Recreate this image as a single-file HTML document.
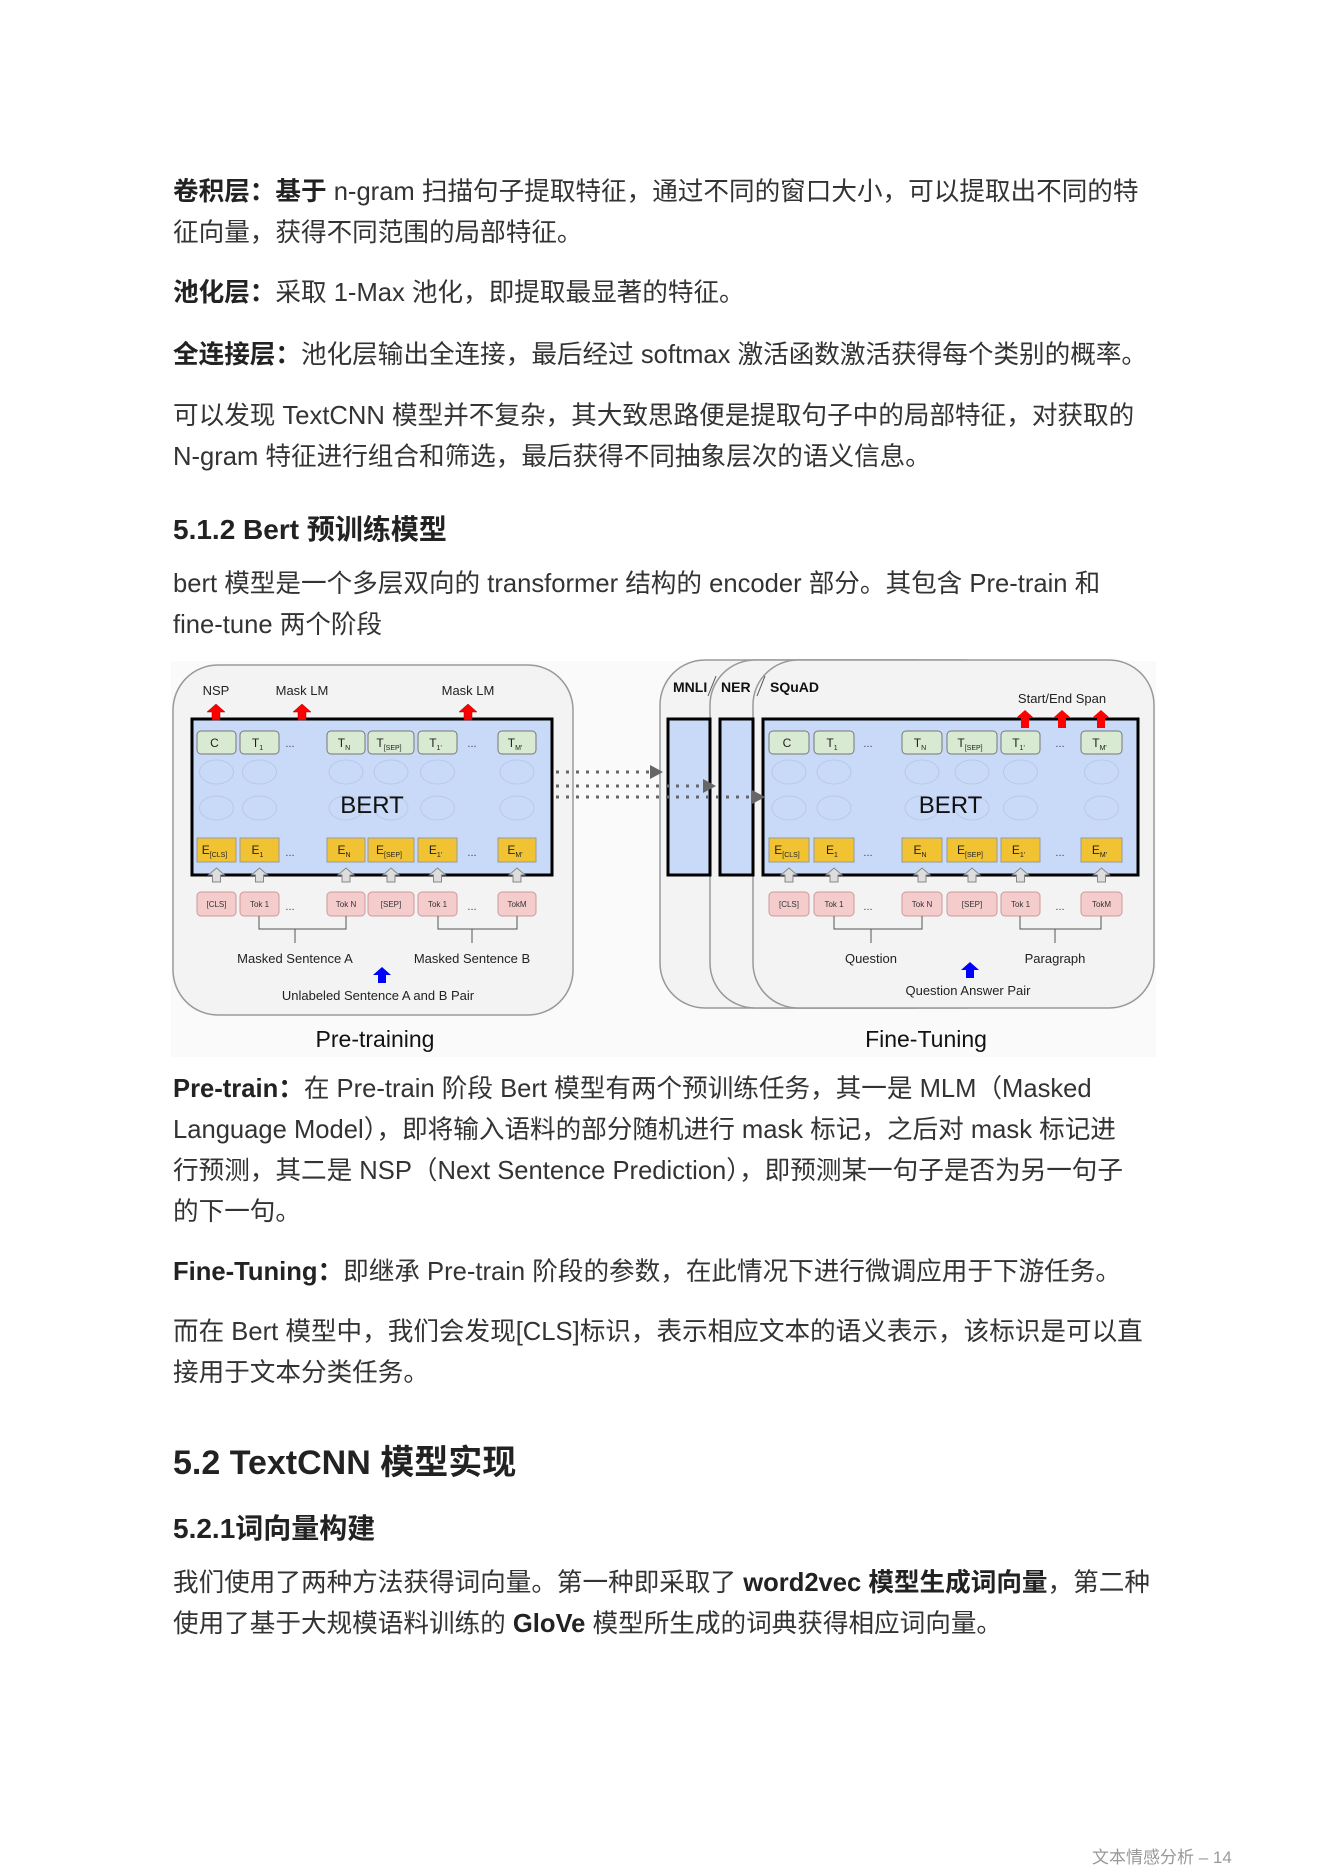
<!DOCTYPE html>
<html><head><meta charset="utf-8"><style>
html,body{margin:0;padding:0;background:#fff}
body{width:1322px;height:1871px;position:relative;overflow:hidden;font-family:"Liberation Sans","Noto Sans CJK SC",sans-serif;color:#333}
.l{position:absolute;left:173px;font-size:25.6px;line-height:30px;white-space:nowrap}
b{font-weight:bold;color:#222}
.h{position:absolute;left:173px;font-weight:bold;color:#222;white-space:nowrap}
svg{position:absolute;left:0;top:0}
</style></head><body>
<div class="l" style="top:177px"><b>卷积层：基于</b> n-gram 扫描句子提取特征，通过不同的窗口大小，可以提取出不同的特</div>
<div class="l" style="top:218px">征向量，获得不同范围的局部特征。</div>
<div class="l" style="top:278px"><b>池化层：</b>采取 1-Max 池化，即提取最显著的特征。</div>
<div class="l" style="top:340px"><b>全连接层：</b>池化层输出全连接，最后经过 softmax 激活函数激活获得每个类别的概率。</div>
<div class="l" style="top:401px">可以发现 TextCNN 模型并不复杂，其大致思路便是提取句子中的局部特征，对获取的</div>
<div class="l" style="top:442px">N-gram 特征进行组合和筛选，最后获得不同抽象层次的语义信息。</div>
<div class="h" style="top:508px;font-size:28px">5.1.2 Bert 预训练模型</div>
<div class="l" style="top:569px">bert 模型是一个多层双向的 transformer 结构的 encoder 部分。其包含 Pre-train 和</div>
<div class="l" style="top:610px">fine-tune 两个阶段</div>

<svg id="d" width="1322" height="1871" viewBox="0 0 1322 1871" font-family="Liberation Sans, sans-serif"></svg>

<div class="l" style="top:1074px"><b>Pre-train：</b>在 Pre-train 阶段 Bert 模型有两个预训练任务，其一是 MLM（Masked</div>
<div class="l" style="top:1115px">Language Model），即将输入语料的部分随机进行 mask 标记，之后对 mask 标记进</div>
<div class="l" style="top:1156px">行预测，其二是 NSP（Next Sentence Prediction），即预测某一句子是否为另一句子</div>
<div class="l" style="top:1197px">的下一句。</div>
<div class="l" style="top:1257px"><b>Fine-Tuning：</b>即继承 Pre-train 阶段的参数，在此情况下进行微调应用于下游任务。</div>
<div class="l" style="top:1317px">而在 Bert 模型中，我们会发现[CLS]标识，表示相应文本的语义表示，该标识是可以直</div>
<div class="l" style="top:1358px">接用于文本分类任务。</div>
<div class="h" style="top:1435px;font-size:34px">5.2 TextCNN 模型实现</div>
<div class="h" style="top:1507px;font-size:28px">5.2.1词向量构建</div>
<div class="l" style="top:1568px">我们使用了两种方法获得词向量。第一种即采取了 <b>word2vec 模型生成词向量</b>，第二种</div>
<div class="l" style="top:1609px">使用了基于大规模语料训练的 <b>GloVe</b> 模型所生成的词典获得相应词向量。</div>
<div style="position:absolute;left:1092px;top:1843px;font-size:17px;color:#999;white-space:nowrap">文本情感分析 – 14</div>

<script>
const s=document.getElementById('d');let h='';
h+='<rect x="171" y="661" width="985" height="396" fill="#fafafa"/>';
function panel(x,y,w,hh){h+=`<rect x="${x}" y="${y}" width="${w}" height="${hh}" rx="45" fill="#f3f3f3" stroke="#999" stroke-width="1.5"/>`;}
panel(173,665,400,350);
panel(660,660,300,348);panel(710,660,300,348);panel(753,660,401,348);
h+='<rect x="668" y="719" width="42" height="156" fill="#c9daf8" stroke="#000" stroke-width="3"/>';
h+='<rect x="720" y="719" width="33" height="156" fill="#c9daf8" stroke="#000" stroke-width="3"/>';
h+='<text x="673" y="692" font-size="14" font-weight="bold" fill="#111">MNLI</text>';
h+='<text x="721" y="692" font-size="14" font-weight="bold" fill="#111">NER</text>';
h+='<text x="770" y="692" font-size="14" font-weight="bold" fill="#111">SQuAD</text>';
h+='<line x1="716" y1="676" x2="708" y2="696" stroke="#555"/><line x1="765" y1="676" x2="757" y2="696" stroke="#555"/>';
function bert(bx,bw,boxes,dots,brL,brR,labA,labB){
 h+=`<rect x="${bx}" y="719" width="${bw}" height="156" fill="#c9daf8" stroke="#000" stroke-width="3"/>`;
 boxes.forEach(b=>{let cx=b[0]+b[1]/2;h+=`<ellipse cx="${cx}" cy="772" rx="17" ry="12" fill="none" stroke="#b8c8e6"/><ellipse cx="${cx}" cy="808" rx="17" ry="12" fill="none" stroke="#b8c8e6"/>`;});
 h+=`<text x="${bx+bw/2}" y="813" font-size="24" text-anchor="middle" fill="#111">BERT</text>`;
 const tl=[['C',''],['T','1'],['T','N'],['T','[SEP]'],["T","1'"],["T","M'"]];
 const el=[['E','[CLS]'],['E','1'],['E','N'],['E','[SEP]'],["E","1'"],["E","M'"]];
 const tk=['[CLS]','Tok 1','Tok N','[SEP]','Tok 1','TokM'];
 boxes.forEach((b,i)=>{let cx=b[0]+b[1]/2;
  h+=`<rect x="${b[0]}" y="731" width="${b[1]}" height="23" rx="4" fill="#d9ead3" stroke="#777"/>`;
  h+=`<text x="${cx-2}" y="747" font-size="12" text-anchor="middle" fill="#222">${tl[i][0]}<tspan font-size="7" dy="3">${tl[i][1]}</tspan></text>`;
  h+=`<rect x="${b[0]}" y="838" width="${b[1]}" height="24" fill="#f1c232" stroke="#999"/>`;
  h+=`<text x="${cx-2}" y="854" font-size="12" text-anchor="middle" fill="#222">${el[i][0]}<tspan font-size="7" dy="3">${el[i][1]}</tspan></text>`;
  h+=`<path d="M${cx-4} 882 V875 H${cx-8} L${cx} 868 L${cx+8} 875 H${cx+4} V882Z" fill="#ddd" stroke="#888"/>`;
  h+=`<rect x="${b[0]}" y="892" width="${b[1]}" height="24" rx="4" fill="#f4cccc" stroke="#c99"/>`;
  h+=`<text x="${cx}" y="907" font-size="8" text-anchor="middle" fill="#333">${tk[i]}</text>`;
 });
 dots.forEach(d=>{h+=`<text x="${d}" y="747" font-size="11" text-anchor="middle" fill="#444">...</text><text x="${d}" y="856" font-size="11" text-anchor="middle" fill="#444">...</text><text x="${d}" y="910" font-size="11" text-anchor="middle" fill="#444">...</text>`;});
 [brL,brR].forEach((br,i)=>{h+=`<path d="M${br[0]} 916 V929 H${br[1]} V916 M${br[2]} 929 V943" fill="none" stroke="#555"/>`;
  h+=`<text x="${br[2]}" y="963" font-size="13" text-anchor="middle" fill="#222">${[labA,labB][i]}</text>`;});
}
bert(192,360,[[197,39],[240,39],[327,38],[368,46],[418,39],[498,38]],[290,472],[259,346,295],[438,517,472],'Masked Sentence A','Masked Sentence B');
bert(763,375,[[769,40],[814,40],[902,40],[947,50],[1001,39],[1081,41]],[868,1060],[834,922,871],[1020,1101,1055],'Question','Paragraph');
function red(x){h+=`<path d="M${x-4} 720 V712 H${x-9} L${x} 704 L${x+9} 712 H${x+4} V720Z" fill="#f00" stroke="#900" stroke-width=".5"/>`;}
function blue(x,y){h+=`<path d="M${x-4} ${y+16} V${y+8} H${x-9} L${x} ${y} L${x+9} ${y+8} H${x+4} V${y+16}Z" fill="#00f"/>`;}
[216,302,468].forEach(x=>red(x));
[1025,1062,1101].forEach(x=>{h+=`<path d="M${x-4} 728 V718 H${x-9} L${x} 710 L${x+9} 718 H${x+4} V728Z" fill="#f00"/>`;});
blue(382,967);blue(970,962);
h+='<text x="216" y="695" font-size="13" text-anchor="middle" fill="#222">NSP</text>';
h+='<text x="302" y="695" font-size="13" text-anchor="middle" fill="#222">Mask LM</text>';
h+='<text x="468" y="695" font-size="13" text-anchor="middle" fill="#222">Mask LM</text>';
h+='<text x="1062" y="703" font-size="13" text-anchor="middle" fill="#222">Start/End Span</text>';
h+='<text x="378" y="1000" font-size="13" text-anchor="middle" fill="#222">Unlabeled Sentence A and B Pair</text>';
h+='<text x="968" y="995" font-size="13" text-anchor="middle" fill="#222">Question Answer Pair</text>';
[[772,650],[786,703],[797,752]].forEach(a=>{h+=`<line x1="556" y1="${a[0]}" x2="${a[1]}" y2="${a[0]}" stroke="#666" stroke-width="3" stroke-dasharray="3 7"/><path d="M${a[1]} ${a[0]-7} L${a[1]+13} ${a[0]} L${a[1]} ${a[0]+7}Z" fill="#666"/>`;});
h+='<text x="375" y="1047" font-size="23" text-anchor="middle" fill="#111">Pre-training</text>';
h+='<text x="926" y="1047" font-size="23" text-anchor="middle" fill="#111">Fine-Tuning</text>';
s.innerHTML=h;
</script>
</body></html>
